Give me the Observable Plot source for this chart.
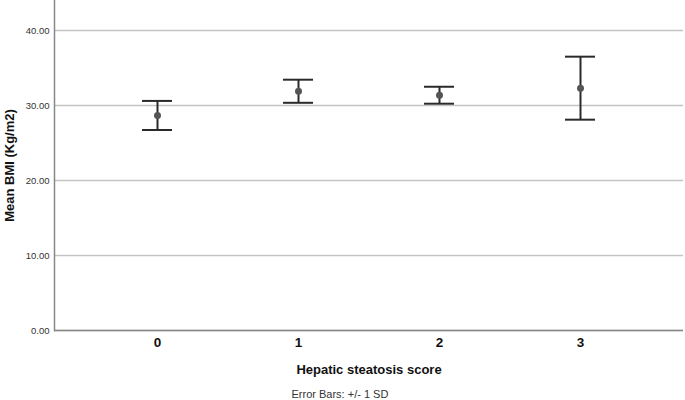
<!DOCTYPE html>
<html>
<head>
<meta charset="utf-8">
<script src="https://cdn.jsdelivr.net/npm/d3@7"></script>
<script src="https://cdn.jsdelivr.net/npm/@observablehq/plot@0.6"></script>
<style>
  html, body { margin: 0; padding: 0; background: white; }
</style>
</head>
<body>
<div id="chart"></div>
<script>
const categories = ["0", "1", "2", "3"];
const means = [28.67, 31.90, 31.37, 32.31];
const sds = [1.94, 1.54, 1.13, 4.20];
const yTicks = [0, 10, 20, 30, 40];
const yLabel = "Mean BMI (Kg/m2)";
const xLabel = "Hepatic steatosis score";
const caption = "Error Bars: +/- 1 SD";

const data = categories.map((c, i) => ({cat: c, mean: means[i], lo: means[i] - sds[i], hi: means[i] + sds[i]}));

const font = "Arial, 'Liberation Sans', sans-serif";

const chart = Plot.plot({
  width: 685,
  height: 400,
  marginLeft: 54,
  marginRight: 2,
  marginTop: 0,
  marginBottom: 70,
  style: {fontFamily: font, background: "white"},
  x: {type: "band", domain: categories, paddingInner: 0.789, paddingOuter: 0.61, label: null},
  y: {domain: [0, 44], label: null},
  marks: [
    Plot.gridY(yTicks, {stroke: "#c4c4c4", strokeOpacity: 1, strokeWidth: 1.3}),
    Plot.axisY(yTicks, {tickSize: 0, tickPadding: 5, tickFormat: d => d.toFixed(2), fontSize: 9.5, fill: "#333", label: null}),
    Plot.axisX({tickSize: 0, tickPadding: 7, fontSize: 13.5, fontWeight: "bold", fill: "#111", label: null}),
    Plot.frame({anchor: "left", stroke: "#888", strokeWidth: 1.5}),
    Plot.ruleY([0], {stroke: "#888", strokeWidth: 1.5}),
    Plot.ruleX(data, {x: "cat", y1: "lo", y2: "hi", stroke: "#2a2a2a", strokeWidth: 2}),
    Plot.tickY(data, {x: "cat", y: "hi", stroke: "#2a2a2a", strokeWidth: 2}),
    Plot.tickY(data, {x: "cat", y: "lo", stroke: "#2a2a2a", strokeWidth: 2}),
    Plot.dot(data, {x: "cat", y: "mean", r: 3.5, fill: "#555", stroke: "none"}),
    Plot.text([yLabel], {frameAnchor: "left", rotate: -90, dx: -45, textAnchor: "middle", lineAnchor: "middle", fontSize: 13, fontWeight: "bold", fill: "#111"}),
    Plot.text([xLabel], {frameAnchor: "bottom", dy: 39, textAnchor: "middle", lineAnchor: "middle", fontSize: 13, fontWeight: "bold", fill: "#111"}),
    Plot.text([caption], {frameAnchor: "bottom-left", dx: 237, dy: 64, textAnchor: "start", lineAnchor: "middle", fontSize: 11, fill: "#333"})
  ]
});

document.getElementById("chart").appendChild(chart);
</script>
</body>
</html>
